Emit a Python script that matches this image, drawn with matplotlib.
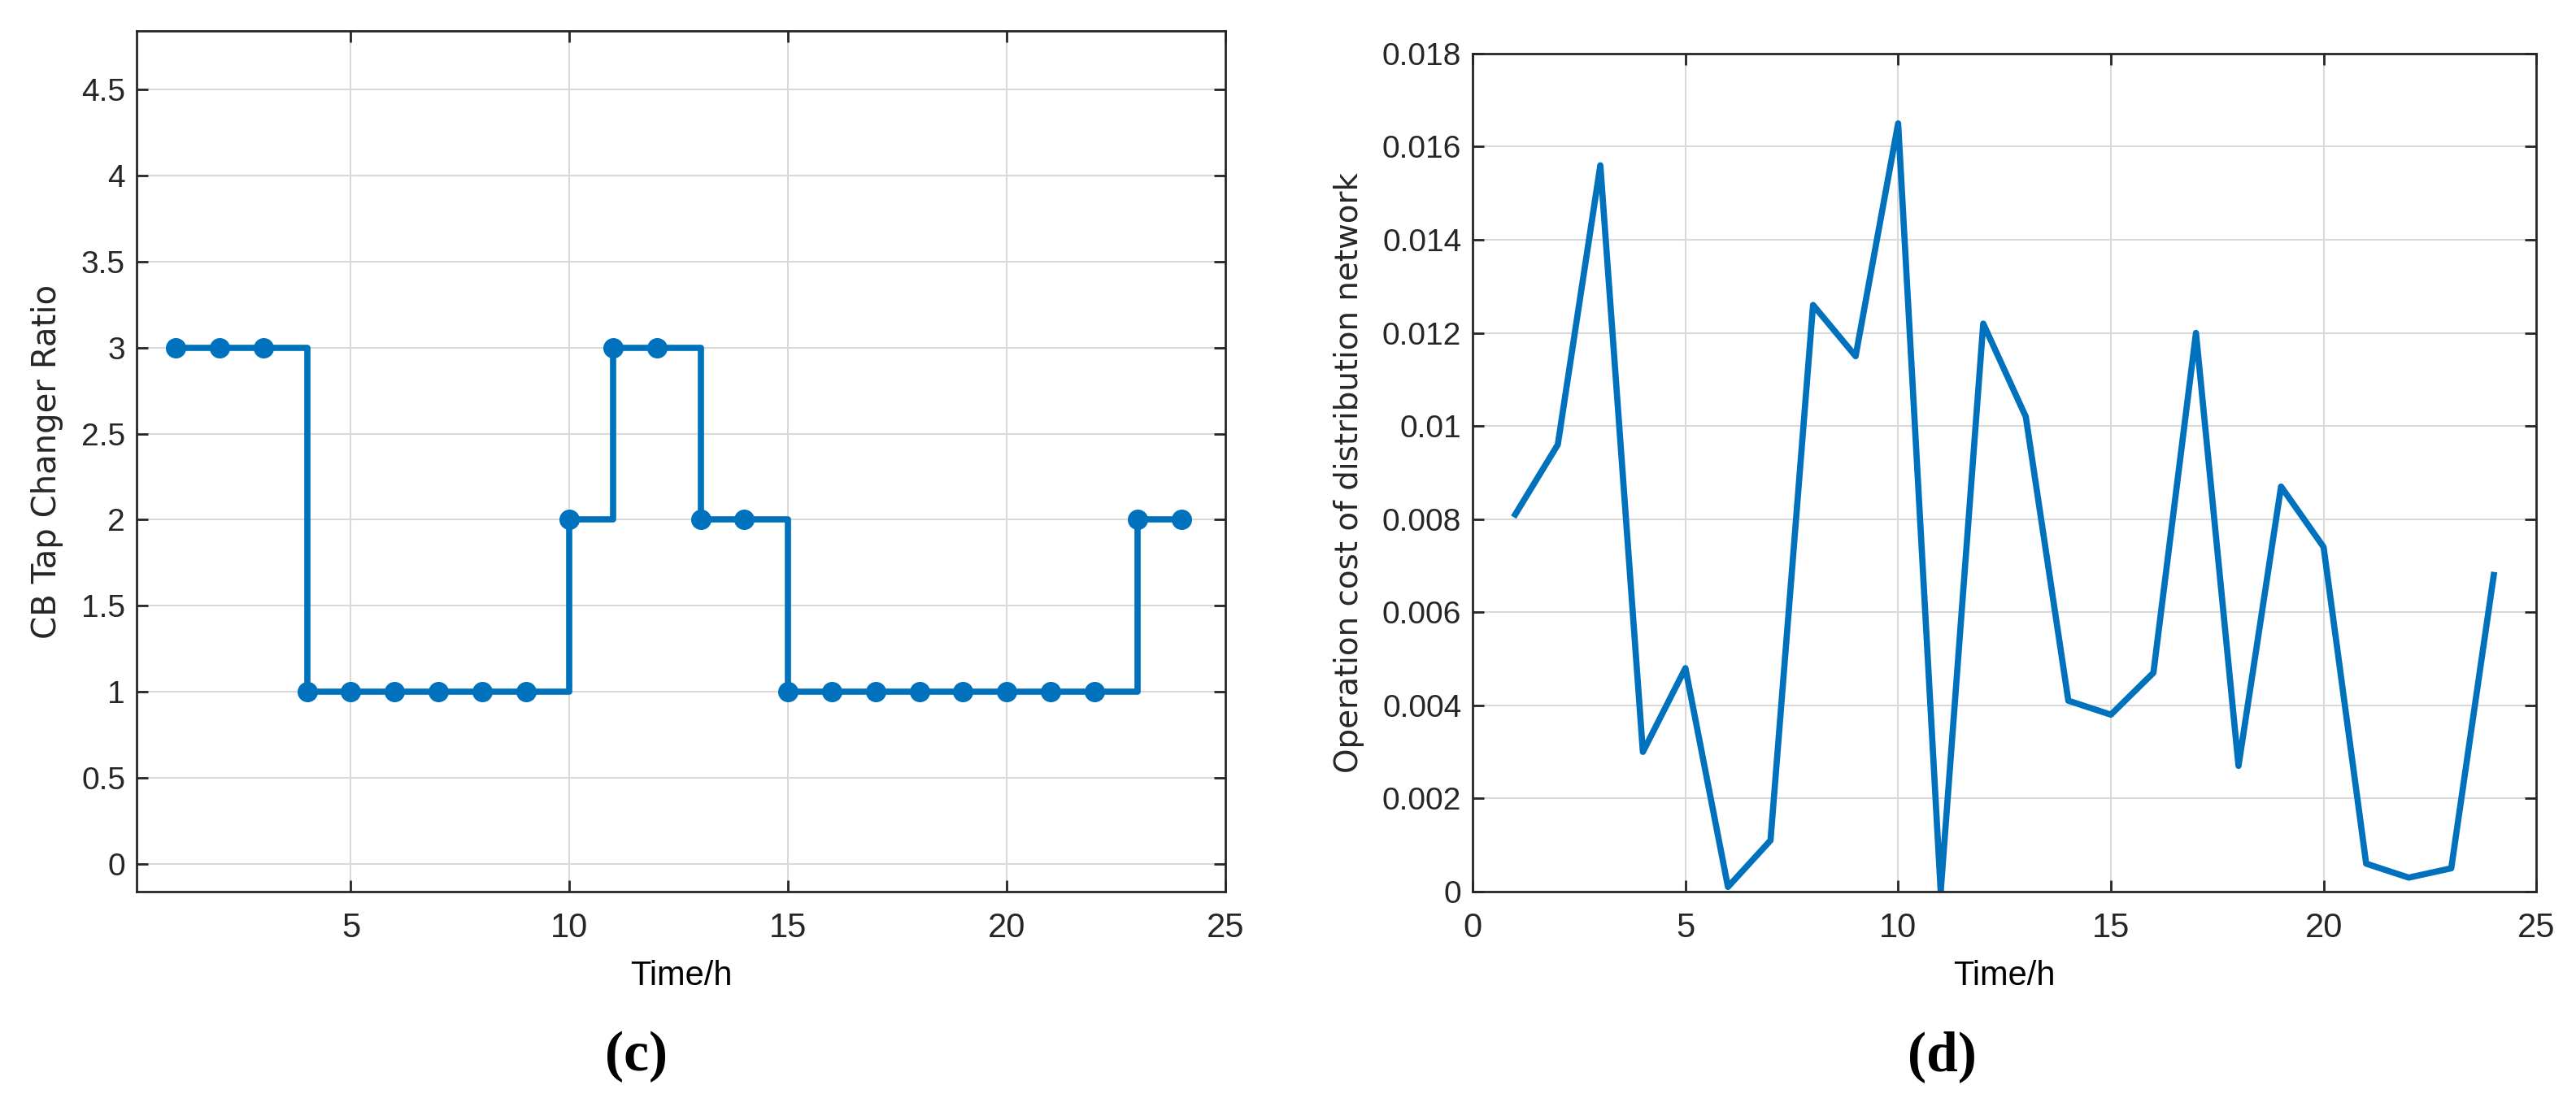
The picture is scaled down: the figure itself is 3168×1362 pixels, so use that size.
import numpy as np
import matplotlib.pyplot as plt
from matplotlib.ticker import FuncFormatter

# data
hours = list(range(1, 25))
tap_ratio = [3, 3, 3, 1, 1, 1, 1, 1, 1, 2, 3, 3, 2, 2, 1, 1, 1, 1, 1, 1, 1, 1, 2, 2]
op_cost = [0.0081, 0.0096, 0.0156, 0.0030, 0.0048, 0.0001, 0.0011, 0.0126,
           0.0115, 0.0165, 0.0000, 0.0122, 0.0102, 0.0041, 0.0038, 0.0047,
           0.0120, 0.0027, 0.0087, 0.0074, 0.0006, 0.0003, 0.0005, 0.0068]

blue = '#0072BD'
dark = '#262626'
tick_font = ['Liberation Sans', 'DejaVu Sans']

plt.rcParams['font.family'] = tick_font

fig = plt.figure(figsize=(31.68, 13.62), dpi=100)
ax1 = fig.add_axes([0.053, 0.1946, 0.4227, 0.7775])
ax2 = fig.add_axes([0.5717, 0.1946, 0.4129, 0.757])


def style(ax):
    ax.grid(True, color='#d9d9d9', linewidth=1.5)
    ax.set_axisbelow(True)
    for s in ax.spines.values():
        s.set_color(dark)
        s.set_linewidth(2)
    ax.tick_params(direction='in', length=10, width=2, color=dark,
                   top=True, right=True, labelcolor=dark)
    ax.tick_params(axis='y', labelsize=28, pad=10)
    ax.tick_params(axis='x', labelsize=30, pad=18)
    fmt = FuncFormatter(lambda v, p: '%g' % round(v, 6))
    ax.yaxis.set_major_formatter(fmt)
    ax.xaxis.set_major_formatter(fmt)


# (c) tap changer ratio
ax1.step(hours, tap_ratio, where='post', color=blue, linewidth=5.5,
         marker='o', markersize=17)
ax1.set_xlim(0.1, 25)
ax1.set_ylim(-0.16, 4.84)
ax1.set_xticks([5, 10, 15, 20, 25])
ax1.set_yticks(np.arange(0, 4.51, 0.5))
style(ax1)
ax1.set_xlabel('Time/h', fontsize=30, color='black', labelpad=14)
ax1.set_ylabel('CB Tap Changer Ratio', fontsize=29, color=dark,
               family='DejaVu Sans', labelpad=16)

# (d) operation cost
ax2.plot(hours, op_cost, color=blue, linewidth=5.5)
ax2.set_xlim(0, 25)
ax2.set_ylim(0, 0.018)
ax2.set_xticks(np.arange(0, 26, 5))
ax2.set_yticks(np.arange(0, 0.0181, 0.002))
style(ax2)
ax2.set_xlabel('Time/h', fontsize=30, color='black', labelpad=14)
ax2.set_ylabel('Operation cost of distribution network', fontsize=28,
               color=dark, family='DejaVu Sans', labelpad=16)

fig.text(0.247, 1 - 1300 / 1362, '(c)', ha='center', va='center',
         fontsize=50, fontweight='bold', family='Liberation Serif')
fig.text(0.754, 1 - 1300 / 1362, '(d)', ha='center', va='center',
         fontsize=50, fontweight='bold', family='Liberation Serif')

fig.savefig('out.png', dpi=100)
